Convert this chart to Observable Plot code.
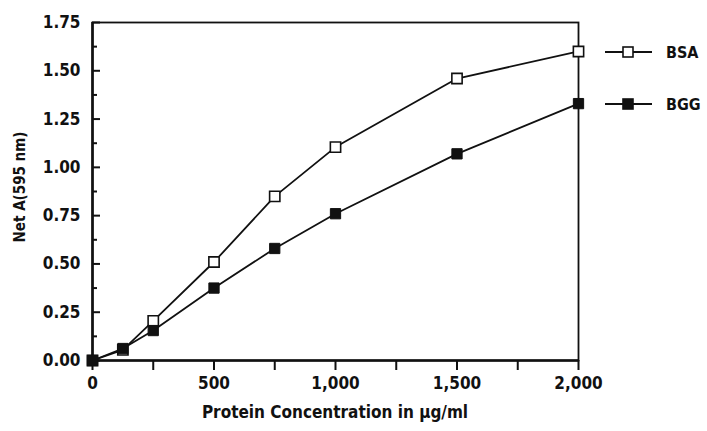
<!DOCTYPE html>
<html>
<head>
<meta charset="utf-8">
<script src="https://cdn.jsdelivr.net/npm/d3@7"></script>
<script src="https://cdn.jsdelivr.net/npm/@observablehq/plot@0.6"></script>
<style>
  html, body { margin: 0; padding: 0; background: #fff; }
  #chart { position: relative; width: 707px; height: 431px; }
  #chart svg text { font-stretch: condensed; }
</style>
</head>
<body>
<div id="chart"></div>
<script>
const concentrations = [0, 125, 250, 500, 750, 1000, 1500, 2000];
const bsaValues = [0.00, 0.055, 0.205, 0.51, 0.85, 1.105, 1.46, 1.60];
const bggValues = [0.00, 0.062, 0.155, 0.375, 0.58, 0.76, 1.07, 1.33];
const seriesNames = ["BSA", "BGG"];
const yMajorTicks = [0, 0.25, 0.5, 0.75, 1.0, 1.25, 1.5, 1.75];
const yMinorTicks = [0.125, 0.375, 0.625, 0.875, 1.125, 1.375, 1.625];
const xTicks = [0, 250, 500, 750, 1000, 1250, 1500, 1750, 2000];
const xLabelTicks = [0, 500, 1000, 1500, 2000];

const bsa = concentrations.map((c, i) => ({x: c, y: bsaValues[i], s: "BSA"}));
const bgg = concentrations.map((c, i) => ({x: c, y: bggValues[i], s: "BGG"}));

const font = "'DejaVu Sans Condensed', 'DejaVu Sans', sans-serif";

const chart = Plot.plot({
  width: 707,
  height: 431,
  marginLeft: 92,
  marginRight: 129,
  marginTop: 22,
  marginBottom: 71,
  style: {fontFamily: font, fontWeight: "bold", fontSize: "17px", color: "#111", background: "#fff"},
  x: {domain: [0, 2000]},
  y: {domain: [0, 1.75]},
  marks: [
    Plot.frame({stroke: "#111", strokeWidth: 1.8}),
    Plot.axisY(yMajorTicks, {tickSize: -8, text: null, strokeWidth: 2, stroke: "#111", label: null}),
    Plot.axisY(yMinorTicks, {tickSize: -5, text: null, strokeWidth: 2, stroke: "#111", label: null}),
    Plot.axisY(yMajorTicks, {tickSize: 0, tickPadding: 12, tickFormat: d => d.toFixed(2), fontSize: 17, label: null}),
    Plot.axisX(xTicks, {tickSize: 10, text: null, strokeWidth: 2, stroke: "#111", label: null}),
    Plot.axisX(xLabelTicks, {tickSize: 0, tickPadding: 16, tickFormat: d3.format(","), fontSize: 17, label: null}),
    Plot.ruleX([0], {stroke: "#111", strokeWidth: 2.6}),
    Plot.ruleY([0], {stroke: "#111", strokeWidth: 2.6}),
    Plot.line(bsa, {x: "x", y: "y", stroke: "#111", strokeWidth: 1.8}),
    Plot.line(bgg, {x: "x", y: "y", stroke: "#111", strokeWidth: 1.8}),
    Plot.dot(bsa, {x: "x", y: "y", symbol: "square", r: 5.8, fill: "#fff", stroke: "#111", strokeWidth: 1.6}),
    Plot.dot(bgg, {x: "x", y: "y", symbol: "square", r: 5.8, fill: "#111", stroke: "#111", strokeWidth: 1})
  ]
});

document.getElementById("chart").appendChild(chart);

// axis titles and legend
const svg = d3.select(chart);
svg.append("text")
  .attr("transform", "translate(25,187) rotate(-90)")
  .attr("text-anchor", "middle")
  .style("font-family", font).style("font-weight", "bold").style("font-size", "15px").attr("fill", "#111")
  .text("Net A(595 nm)");
svg.append("text")
  .attr("x", 335).attr("y", 418)
  .attr("text-anchor", "middle")
  .style("font-family", font).style("font-weight", "bold").style("font-size", "17px").attr("fill", "#111")
  .text("Protein Concentration in μg/ml");

const legendY = [52, 104];
seriesNames.forEach((name, i) => {
  const g = svg.append("g").attr("transform", `translate(0,${legendY[i]})`);
  g.append("line").attr("x1", 605).attr("x2", 652).attr("y1", 0).attr("y2", 0)
    .attr("stroke", "#111").attr("stroke-width", 1.8);
  g.append("rect").attr("x", 623).attr("y", -5).attr("width", 10).attr("height", 10)
    .attr("fill", i === 0 ? "#fff" : "#111").attr("stroke", "#111").attr("stroke-width", 1.6);
  g.append("text").attr("x", 666).attr("y", 6).attr("text-anchor", "start")
    .style("font-family", font).style("font-weight", "bold").style("font-size", "16px").attr("fill", "#111")
    .text(name);
});
</script>
</body>
</html>
